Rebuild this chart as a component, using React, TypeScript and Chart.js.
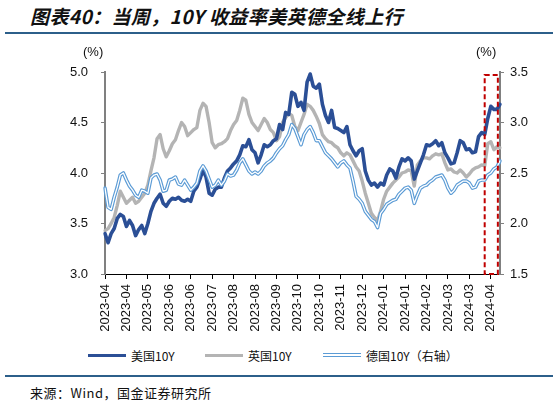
import { useEffect, useRef } from 'react';
import { Chart, registerables } from 'chart.js';

Chart.register(...registerables);

// x-axis labels, one every 7 points (3 weeks)
const tickLabels = [
  '2023-04', '2023-04', '2023-05', '2023-06', '2023-06', '2023-07', '2023-08',
  '2023-08', '2023-09', '2023-10', '2023-10', '2023-11', '2023-12', '2024-01',
  '2024-01', '2024-02', '2024-03', '2024-03', '2024-04',
];
const TICK_EVERY = 7;

// 10Y government bond yields (%), sampled every 3 days from 2023-04-03
const us10y = [
  3.40, 3.31, 3.40, 3.45, 3.55, 3.59, 3.57, 3.47, 3.53, 3.48,
  3.38, 3.44, 3.48, 3.40, 3.50, 3.62, 3.70, 3.75, 3.79, 3.70,
  3.67, 3.72, 3.75, 3.74, 3.76, 3.73, 3.72, 3.74, 3.72, 3.82,
  3.86, 3.94, 4.03, 3.96, 3.80, 3.78, 3.84, 3.86, 3.86, 3.95,
  4.02, 4.05, 4.09, 4.12, 4.18, 4.27, 4.26, 4.33, 4.23, 4.20,
  4.10, 4.18, 4.28, 4.26, 4.28, 4.32, 4.34, 4.48, 4.43, 4.60,
  4.58, 4.80, 4.78, 4.66, 4.70, 4.62, 4.90, 4.98, 4.86, 4.84,
  4.88, 4.68, 4.57, 4.50, 4.62, 4.45, 4.44, 4.42, 4.40, 4.46,
  4.28, 4.22, 4.17, 4.22, 4.24, 4.02, 3.93, 3.88, 3.90, 3.86,
  3.90, 3.88, 3.98, 4.04, 4.02, 3.95, 4.06, 4.14, 4.12, 4.15,
  4.12, 3.94, 4.02, 4.10, 4.18, 4.28, 4.27, 4.29, 4.32, 4.27,
  4.30, 4.20, 4.15, 4.09, 4.10, 4.20, 4.32, 4.30, 4.23, 4.24,
  4.20, 4.21, 4.36, 4.40, 4.38, 4.54, 4.66, 4.63, 4.63, 4.68,
];

const uk10y = [
  3.43, 3.45, 3.50, 3.56, 3.68, 3.82, 3.76, 3.70, 3.73, 3.76,
  3.70, 3.72, 3.76, 3.80, 3.88, 4.02, 4.15, 4.34, 4.38, 4.24,
  4.16, 4.22, 4.29, 4.33, 4.42, 4.50, 4.46, 4.37, 4.40, 4.43,
  4.45, 4.62, 4.69, 4.66, 4.50, 4.30, 4.25, 4.28, 4.29, 4.31,
  4.34, 4.42, 4.48, 4.52, 4.62, 4.74, 4.72, 4.58, 4.50, 4.46,
  4.42, 4.48, 4.54, 4.50, 4.43, 4.40, 4.32, 4.36, 4.50, 4.55,
  4.59, 4.57, 4.46, 4.42, 4.50, 4.58, 4.68, 4.66, 4.62, 4.56,
  4.49, 4.38, 4.34, 4.31, 4.30, 4.27, 4.25, 4.20, 4.17, 4.20,
  4.18, 4.12, 4.06, 4.02, 3.92, 3.80, 3.70, 3.60, 3.56, 3.53,
  3.62, 3.74, 3.82, 3.86, 3.90, 3.93, 3.96, 4.00, 4.01, 4.03,
  4.02, 3.87, 4.08, 4.12, 4.15, 4.15, 4.14, 4.17, 4.19, 4.18,
  4.19, 4.10, 4.03, 4.04, 4.01, 4.00, 4.03, 4.00, 3.96, 3.99,
  4.03, 4.05, 4.06, 4.08, 4.07, 4.29, 4.31, 4.23, 4.26, 4.25,
];

const de10y = [
  2.35, 2.16, 2.14, 2.26, 2.36, 2.48, 2.50, 2.43, 2.37, 2.33,
  2.28, 2.26, 2.33, 2.32, 2.30, 2.45, 2.48, 2.49, 2.43, 2.32,
  2.33, 2.43, 2.44, 2.46, 2.39, 2.38, 2.43, 2.38, 2.33, 2.36,
  2.40, 2.52, 2.57, 2.52, 2.44, 2.36, 2.38, 2.43, 2.38, 2.42,
  2.49, 2.47, 2.48, 2.53, 2.60, 2.64, 2.58, 2.52, 2.49, 2.51,
  2.49, 2.52, 2.57, 2.60, 2.62, 2.65, 2.70, 2.74, 2.77, 2.83,
  2.88, 2.98, 2.94, 2.86, 2.78, 2.88, 2.93, 2.96, 2.90, 2.82,
  2.82, 2.76, 2.70, 2.67, 2.64, 2.60, 2.56, 2.60, 2.62, 2.58,
  2.55, 2.42, 2.27, 2.24, 2.20, 2.12, 2.08, 2.04, 2.02, 1.96,
  2.10, 2.14, 2.19, 2.21, 2.23, 2.24, 2.29, 2.32, 2.35, 2.36,
  2.33, 2.20, 2.28, 2.35, 2.37, 2.38, 2.41, 2.43, 2.46, 2.47,
  2.48, 2.43, 2.35, 2.30, 2.33, 2.38, 2.40, 2.42, 2.42, 2.40,
  2.35, 2.36, 2.42, 2.43, 2.43, 2.48, 2.50, 2.54, 2.56, 2.62,
];

// span of the dashed highlight frame, in point indices
const HIGHLIGHT_FROM = 124;
const HIGHLIGHT_TO = 128.3;

const US_COLOR = '#2B4F96';
const UK_COLOR = '#B4B4B4';
const DE_COLOR = '#5B9BD5';
const TICK_FONT = { family: '"Liberation Sans", Arial, sans-serif', size: 13 };
const CJK = '"Noto Sans CJK SC", "Noto Sans", sans-serif';

const highlightFrame = {
  id: 'highlightFrame',
  afterDatasetsDraw(chart: any) {
    const { ctx, chartArea } = chart;
    const x = chart.scales.x;
    const l = x.getPixelForValue(HIGHLIGHT_FROM);
    const r = x.getPixelForValue(HIGHLIGHT_TO);
    ctx.save();
    ctx.strokeStyle = '#C00000';
    ctx.lineWidth = 2;
    ctx.setLineDash([5, 3]);
    ctx.strokeRect(l, chartArea.top + 3, r - l, chartArea.bottom - chartArea.top - 3);
    ctx.restore();
  },
};

function YieldChart() {
  const ref = useRef<HTMLCanvasElement | null>(null);

  useEffect(() => {
    if (!ref.current) return;
    const labels = us10y.map((_, i) => String(i));
    const chart = new Chart(ref.current, {
      type: 'line',
      data: {
        labels,
        datasets: [
          // German line is drawn as a light-blue stroke with a white core
          { data: de10y, yAxisID: 'y2', borderColor: '#FFFFFF', borderWidth: 1.3 },
          { data: de10y, yAxisID: 'y2', borderColor: DE_COLOR, borderWidth: 3.6 },
          { data: us10y, yAxisID: 'y', borderColor: US_COLOR, borderWidth: 3.6 },
          { data: uk10y, yAxisID: 'y', borderColor: UK_COLOR, borderWidth: 3.4 },
        ],
      },
      options: {
        responsive: false,
        animation: false,
        devicePixelRatio: 1,
        layout: { padding: { top: 32, left: 0, right: 0, bottom: 0 } },
        elements: {
          point: { radius: 0 },
          line: { tension: 0, borderJoinStyle: 'round', borderCapStyle: 'round' },
        },
        plugins: { legend: { display: false }, tooltip: { enabled: false } },
        scales: {
          x: {
            type: 'category',
            afterBuildTicks: (scale: any) => {
              scale.ticks = scale.ticks.filter((t: any) => t.value % TICK_EVERY === 0);
            },
            afterFit: (scale: any) => { scale.height = 66; },
            border: { display: true, color: '#000000', width: 1 },
            grid: { drawOnChartArea: false, drawTicks: true, tickLength: 5, color: '#000000' },
            ticks: {
              autoSkip: false,
              maxRotation: 90,
              minRotation: 90,
              padding: 5,
              color: '#111111',
              font: TICK_FONT,
              callback: (value: any) => tickLabels[Math.round(Number(value) / TICK_EVERY)] ?? '',
            },
          },
          y: {
            position: 'left',
            min: 3.0,
            max: 5.0,
            afterFit: (scale: any) => { scale.width = 105; },
            border: { display: true, color: '#808080', width: 2 },
            grid: { drawOnChartArea: false, drawTicks: true, tickLength: 4, color: '#808080' },
            ticks: {
              stepSize: 0.5,
              padding: 13,
              color: '#111111',
              font: TICK_FONT,
              callback: (v: any) => Number(v).toFixed(1),
            },
          },
          y2: {
            position: 'right',
            min: 1.5,
            max: 3.5,
            afterFit: (scale: any) => { scale.width = 59; },
            border: { display: true, color: '#808080', width: 2 },
            grid: { drawOnChartArea: false, drawTicks: true, tickLength: 4, color: '#808080' },
            ticks: {
              stepSize: 0.5,
              padding: 6,
              color: '#111111',
              font: TICK_FONT,
              callback: (v: any) => Number(v).toFixed(1),
            },
          },
        },
      },
      plugins: [highlightFrame],
    });
    return () => chart.destroy();
  }, []);

  return <canvas ref={ref} width={559} height={300} style={{ position: 'absolute', left: 0, top: 40 }} />;
}

function LegendItem({ left, label, marker }: { left: number; label: string; marker: any }) {
  return (
    <div style={{ position: 'absolute', left, top: 346, height: 18, display: 'flex', alignItems: 'center' }}>
      <div style={{ width: 38, ...marker }} />
      <span style={{ marginLeft: 5, fontFamily: CJK, fontSize: 12, color: '#111' }}>{label}</span>
    </div>
  );
}

export default function App() {
  return (
    <div style={{ position: 'absolute', left: 0, top: 0, width: 559, height: 406, background: '#fff', overflow: 'hidden' }}>
      <div
        style={{
          position: 'absolute', left: 30, top: 3, fontFamily: CJK, fontSize: 19, fontWeight: 700,
          fontStyle: 'italic', color: '#111', whiteSpace: 'nowrap', lineHeight: '26px', letterSpacing: 0.4,
        }}
      >
        图表40：当周，10Y 收益率美英德全线上行
      </div>
      <div style={{ position: 'absolute', left: 5, top: 32, width: 548, height: 2, background: '#2C5F8A' }} />

      <YieldChart />

      <div style={{ position: 'absolute', left: 83, top: 44, fontFamily: TICK_FONT.family, fontSize: 13, color: '#111' }}>(%)</div>
      <div style={{ position: 'absolute', left: 476, top: 44, fontFamily: TICK_FONT.family, fontSize: 13, color: '#111' }}>(%)</div>

      <LegendItem left={88} label="美国10Y" marker={{ height: 3, background: US_COLOR }} />
      <LegendItem left={205} label="英国10Y" marker={{ height: 3, background: UK_COLOR }} />
      <LegendItem
        left={323}
        label="德国10Y（右轴）"
        marker={{ height: 4, boxSizing: 'border-box', borderTop: `1px solid ${DE_COLOR}`, borderBottom: `1px solid ${DE_COLOR}`, background: '#fff' }}
      />

      <div style={{ position: 'absolute', left: 5, top: 375, width: 548, height: 2, background: '#2C5F8A' }} />
      <div style={{ position: 'absolute', left: 30, top: 383, fontFamily: CJK, fontSize: 13, color: '#111', whiteSpace: 'nowrap', letterSpacing: 0.5 }}>
        来源：Wind，国金证券研究所
      </div>
    </div>
  );
}
